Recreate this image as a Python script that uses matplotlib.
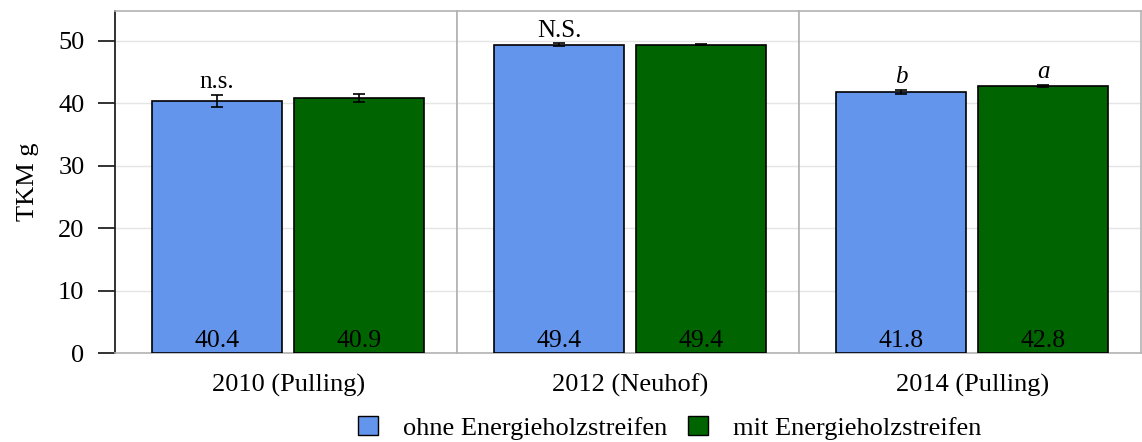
import numpy as np
import matplotlib.pyplot as plt
from matplotlib.patches import Patch

plt.rcParams['font.family'] = ['Liberation Serif', 'DejaVu Serif']

# data
years = ['2010 (Pulling)', '2012 (Neuhof)', '2014 (Pulling)']
groups = ['ohne Energieholzstreifen', 'mit Energieholzstreifen']
ohne = [40.4, 49.4, 41.8]
mit = [40.9, 49.4, 42.8]
ohne_err = [0.95, 0.2, 0.3]
mit_err = [0.65, 0.1, 0.1]
sig_labels = ['n.s.', 'N.S.', 'b']
sig_labels_mit = ['', '', 'a']
sig_italic = [False, False, True]

colors = ['#6495ED', '#006400']

fig = plt.figure(figsize=(11.42, 4.42), dpi=100)
left, right, bottom, top = 115 / 1142, 1141 / 1142, 1 - 353 / 442, 1 - 11 / 442
w = (right - left) / 3

axes = []
for i, yr in enumerate(years):
    ax = fig.add_axes([left + i * w, bottom, w, top - bottom])
    axes.append(ax)
    vals = [ohne[i], mit[i]]
    errs = [ohne_err[i], mit_err[i]]
    ax.bar([0, 1], vals, width=0.917, color=colors, edgecolor='black', linewidth=1.2, zorder=3)
    ax.errorbar([0, 1], vals, yerr=errs, fmt='none', ecolor='black', elinewidth=1.2,
                capsize=4, capthick=1.2, zorder=4)
    for x, v in zip([0, 1], vals):
        ax.text(x, 0.1, f'{v:.1f}', ha='center', va='bottom', fontsize=18.5, zorder=5)
    style = 'italic' if sig_italic[i] else 'normal'
    ax.text(0, ohne[i] + ohne_err[i] + 0.3, sig_labels[i], ha='center', va='bottom',
            fontsize=18, style=style)
    if sig_labels_mit[i]:
        ax.text(1, mit[i] + mit_err[i] + 0.3, sig_labels_mit[i], ha='center', va='bottom',
                fontsize=18, style=style)
    ax.set_xlim(-0.72, 1.69)
    ax.set_ylim(0, 54.8)
    ax.set_yticks([0, 10, 20, 30, 40, 50])
    ax.yaxis.grid(True, color='#E5E5E5', linewidth=1.0, zorder=0)
    ax.set_axisbelow(True)
    ax.set_xticks([0.5])
    ax.set_xticklabels([yr], fontsize=19)
    ax.tick_params(axis='x', length=0, pad=15)
    for s in ['top', 'right', 'left', 'bottom']:
        ax.spines[s].set_color('#B3B3B3')
        ax.spines[s].set_linewidth(1.2)
    if i == 0:
        ax.spines['left'].set_color('#222222')
        ax.spines['left'].set_linewidth(1.3)
        ax.tick_params(axis='y', length=12, width=1.3, color='#222222', labelsize=19, pad=10)
        ax.set_ylabel('TKM g', fontsize=19, labelpad=14)
    else:
        ax.tick_params(axis='y', length=0, labelleft=False)

handles = [Patch(facecolor=c, edgecolor='black', label=g) for c, g in zip(colors, groups)]
fig.legend(handles=handles, loc='center', bbox_to_anchor=(670 / 1142, 1 - 428 / 442), ncol=2,
           frameon=False, fontsize=19, handlelength=0.75, handleheight=0.75, columnspacing=0.8,
           handletextpad=0.95, borderpad=0.1)

fig.savefig('out.png', dpi=100)
